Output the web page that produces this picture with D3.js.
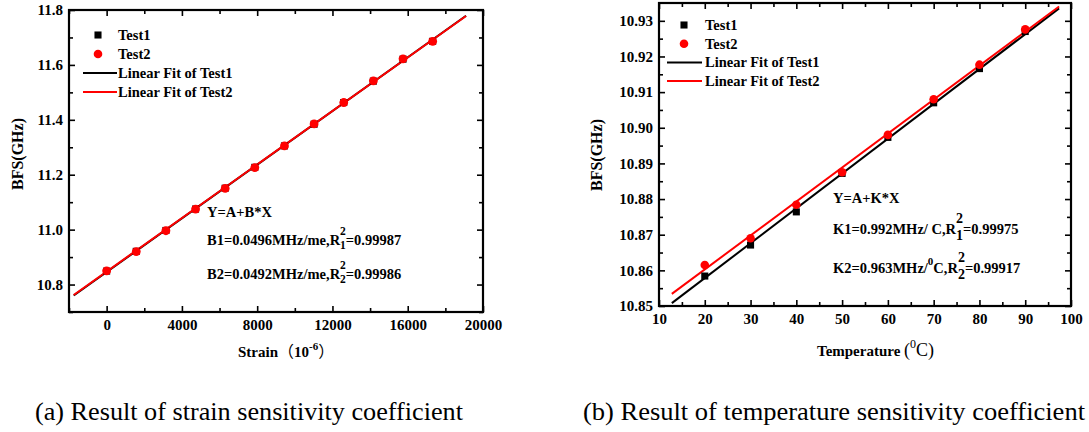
<!DOCTYPE html>
<html><head><meta charset="utf-8">
<script src="https://cdn.jsdelivr.net/npm/d3@7"></script>
<style>
body{margin:0;background:#fff}
svg{display:block}
text{font-family:"Liberation Serif","Times New Roman",serif;fill:#000}
</style>
</head><body>
<svg id="c" width="1089" height="432"></svg>
<script>
// ---------- data ----------
const strainX      = [0,1575,3150,4725,6300,7875,9450,11025,12600,14175,15750,17325];
const strainTest1  = [10.849,10.921,10.997,11.075,11.151,11.227,11.305,11.384,11.463,11.541,11.621,11.686];
const strainTest2  = [10.850,10.920,10.996,11.075,11.150,11.226,11.305,11.385,11.463,11.542,11.622,11.686];
const strainFitX   = [-1750,19100];
const strainFit1Y  = [10.760,11.779];
const strainFit2Y  = [10.762,11.778];
const strainXTicks = [0,4000,8000,12000,16000,20000];
const strainXMinor = [-2000,2000,6000,10000,14000,18000];
const strainYTicks = [10.8,11.0,11.2,11.4,11.6,11.8];
const strainYMinor = [10.7,10.9,11.1,11.3,11.5,11.7];

const tempX        = [20,30,40,50,60,70,80,90];
const tempTest1    = [10.8584,10.8671,10.8764,10.8872,10.8973,10.9070,10.9166,10.9270];
const tempTest2    = [10.8615,10.8690,10.8784,10.8875,10.8980,10.9080,10.9177,10.9276];
const tempFitX     = [12.8,97.4];
const tempFit1Y    = [10.8508,10.9335];
const tempFit2Y    = [10.8534,10.9340];
const tempXTicks   = [10,20,30,40,50,60,70,80,90,100];
const tempXMinor   = [15,25,35,45,55,65,75,85,95];
const tempYTicks   = [10.85,10.86,10.87,10.88,10.89,10.90,10.91,10.92,10.93];
const tempYMinor   = [10.855,10.865,10.875,10.885,10.895,10.905,10.915,10.925];

const legendLabels = ["Test1","Test2","Linear Fit of Test1","Linear Fit of Test2"];
const captions = ["(a) Result of strain sensitivity coefficient","(b) Result of temperature sensitivity coefficient"];

const RED = "#ff0000";
const FONT = '"Liberation Serif","Times New Roman",serif';
const svg = d3.select("#c");

function panel(cfg){
  const x = d3.scaleLinear().domain(cfg.xDomain).range([cfg.l,cfg.r]);
  const y = d3.scaleLinear().domain(cfg.yDomain).range([cfg.b,cfg.t]);
  const g = svg.append("g");

  function ax(fn, scale, vals, size, fmt, tr, pad){
    const a = fn(scale).tickValues(vals).tickSize(-size).tickPadding(pad||6).tickFormat(fmt||"");
    const s = g.append("g").attr("transform",tr).call(a);
    s.attr("font-family",FONT);
    s.select(".domain").remove();
    s.selectAll("line").attr("stroke","#000").attr("stroke-width",1.6);
    s.selectAll("text").attr("font-family",FONT).attr("font-weight","bold").attr("font-size",15).attr("fill","#000");
  }
  const MJ=6, MN=4;
  ax(d3.axisBottom,x,cfg.xTicks,MJ,cfg.xFmt,`translate(0,${cfg.b})`,cfg.xPad);
  ax(d3.axisBottom,x,cfg.xMinor,MN,null,`translate(0,${cfg.b})`);
  ax(d3.axisTop,x,cfg.xTicks,MJ,null,`translate(0,${cfg.t})`);
  ax(d3.axisTop,x,cfg.xMinor,MN,null,`translate(0,${cfg.t})`);
  ax(d3.axisLeft,y,cfg.yTicks,MJ,cfg.yFmt,`translate(${cfg.l},0)`,6);
  ax(d3.axisLeft,y,cfg.yMinor,MN,null,`translate(${cfg.l},0)`);
  ax(d3.axisRight,y,cfg.yTicks,MJ,null,`translate(${cfg.r},0)`);
  ax(d3.axisRight,y,cfg.yMinor,MN,null,`translate(${cfg.r},0)`);

  g.append("rect").attr("x",cfg.l).attr("y",cfg.t).attr("width",cfg.r-cfg.l).attr("height",cfg.b-cfg.t)
    .attr("fill","none").attr("stroke","#000").attr("stroke-width",2.2);

  const line = d3.line().x(d=>x(d[0])).y(d=>y(d[1]));
  g.append("path").datum(cfg.fitX.map((v,i)=>[v,cfg.fit1Y[i]])).attr("d",line)
    .attr("stroke","#000").attr("stroke-width",2).attr("fill","none");
  g.append("path").datum(cfg.fitX.map((v,i)=>[v,cfg.fit2Y[i]])).attr("d",line)
    .attr("stroke",RED).attr("stroke-width",2).attr("fill","none");

  const sq = d3.symbol(d3.symbolSquare,50);
  g.selectAll(null).data(cfg.xs.map((v,i)=>[v,cfg.t1[i]])).join("path")
    .attr("d",sq).attr("transform",d=>`translate(${x(d[0])},${y(d[1])})`).attr("fill","#000");
  g.selectAll(null).data(cfg.xs.map((v,i)=>[v,cfg.t2[i]])).join("circle")
    .attr("cx",d=>x(d[0])).attr("cy",d=>y(d[1])).attr("r",cfg.cr).attr("fill",RED);

  // legend
  const L = cfg.leg;
  const lg = g.append("g");
  lg.append("path").attr("d",sq).attr("transform",`translate(${L.mx},${L.y0})`).attr("fill","#000");
  lg.append("circle").attr("cx",L.mx).attr("cy",L.y0+L.dy).attr("r",4.3).attr("fill",RED);
  lg.append("line").attr("x1",L.lx1).attr("x2",L.lx2).attr("y1",L.y0+2*L.dy).attr("y2",L.y0+2*L.dy).attr("stroke","#000").attr("stroke-width",2);
  lg.append("line").attr("x1",L.lx1).attr("x2",L.lx2).attr("y1",L.y0+3*L.dy).attr("y2",L.y0+3*L.dy).attr("stroke",RED).attr("stroke-width",2);
  legendLabels.forEach((t,i)=>{
    lg.append("text").attr("x",L.tx).attr("y",L.y0+i*L.dy+5).attr("font-size",14.5).attr("font-weight","bold").text(t);
  });
  return g;
}

panel({
  l:69,r:483,t:10,b:312, xDomain:[-2000,20000], yDomain:[10.7,11.8],
  xTicks:strainXTicks,xMinor:strainXMinor,yTicks:strainYTicks,yMinor:strainYMinor,
  xFmt:d3.format("d"), yFmt:d3.format(".1f"), xPad:7,
  xs:strainX,t1:strainTest1,t2:strainTest2,fitX:strainFitX,fit1Y:strainFit1Y,fit2Y:strainFit2Y,cr:4.4,
  leg:{mx:98,y0:35,dy:19,lx1:83,lx2:117,tx:118}
});
panel({
  l:659,r:1071,t:3,b:306, xDomain:[10,100], yDomain:[10.85,10.935],
  xTicks:tempXTicks,xMinor:tempXMinor,yTicks:tempYTicks,yMinor:tempYMinor,
  xFmt:d3.format("d"), yFmt:d3.format(".2f"), xPad:7,
  xs:tempX,t1:tempTest1,t2:tempTest2,fitX:tempFitX,fit1Y:tempFit1Y,fit2Y:tempFit2Y,cr:4.3,
  leg:{mx:684,y0:25,dy:18.7,lx1:667,lx2:702,tx:705}
});

// axis titles
function ytitle(cx,cy){
  svg.append("text").attr("transform",`translate(${cx},${cy}) rotate(-90)`).attr("text-anchor","middle")
    .attr("font-size",16).attr("font-weight","bold").text("BFS(GHz)");
}
ytitle(23,154); ytitle(602,155);

const xa = svg.append("text").attr("x",238).attr("y",357).attr("font-size",15).attr("font-weight","bold");
xa.append("tspan").text("Strain");
xa.append("tspan").attr("font-family","Noto Sans CJK SC").attr("font-weight","normal").attr("font-size",16).text("（");
xa.append("tspan").text("10");
xa.append("tspan").attr("dy",-7).attr("font-size",11).text("-6");
xa.append("tspan").attr("dy",7).attr("font-family","Noto Sans CJK SC").attr("font-weight","normal").attr("font-size",16).text("）");

const xb = svg.append("text").attr("x",817).attr("y",356).attr("font-size",15).attr("font-weight","bold");
xb.append("tspan").text("Temperature ");
xb.append("tspan").attr("font-weight","normal").attr("font-size",18).text("(");
xb.append("tspan").attr("font-weight","normal").attr("font-size",12).attr("dy",-8).text("0");
xb.append("tspan").attr("font-weight","normal").attr("font-size",18).attr("dy",8).text("C)");

// annotations
function ann(x,y,txt){svg.append("text").attr("x",x).attr("y",y).attr("font-size",14.5).attr("font-weight","bold").text(txt);}
function annR(x,y,pre,sub,post,fs,up,down){
  const t = svg.append("text").attr("x",x).attr("y",y).attr("font-size",14.5).attr("font-weight","bold");
  t.append("tspan").text(pre);
  t.append("tspan").attr("font-size",fs).attr("dy",-up).text("2");
  t.append("tspan").attr("font-size",fs).attr("dx",-fs*0.5).attr("dy",up+down).text(sub);
  t.append("tspan").attr("dy",-down).text(post);
  return t;
}
ann(207,217,"Y=A+B*X");
annR(207,245,"B1=0.0496MHz/me,R","1","=0.99987",11.5,10,4);
annR(207,279,"B2=0.0492MHz/me,R","2","=0.99986",11.5,10,4);

ann(833,203,"Y=A+K*X");
annR(833,234,"K1=0.992MHz/ C,R","1","=0.99975",14,11,6);
{
  const t = svg.append("text").attr("x",833).attr("y",273).attr("font-size",14.5).attr("font-weight","bold");
  t.append("tspan").text("K2=0.963MHz/");
  t.append("tspan").attr("font-size",11).attr("dy",-8).text("0");
  t.append("tspan").attr("dy",8).text("C,R");
  t.append("tspan").attr("font-size",14).attr("dy",-11).text("2");
  t.append("tspan").attr("font-size",14).attr("dx",-7).attr("dy",17).text("2");
  t.append("tspan").attr("dy",-6).text("=0.99917");
}

// captions
svg.append("text").attr("x",35).attr("y",420).attr("font-size",25).attr("textLength",428).attr("lengthAdjust","spacingAndGlyphs").text(captions[0]);
svg.append("text").attr("x",583).attr("y",420).attr("font-size",25).attr("textLength",502).attr("lengthAdjust","spacingAndGlyphs").text(captions[1]);
</script>
</body></html>
